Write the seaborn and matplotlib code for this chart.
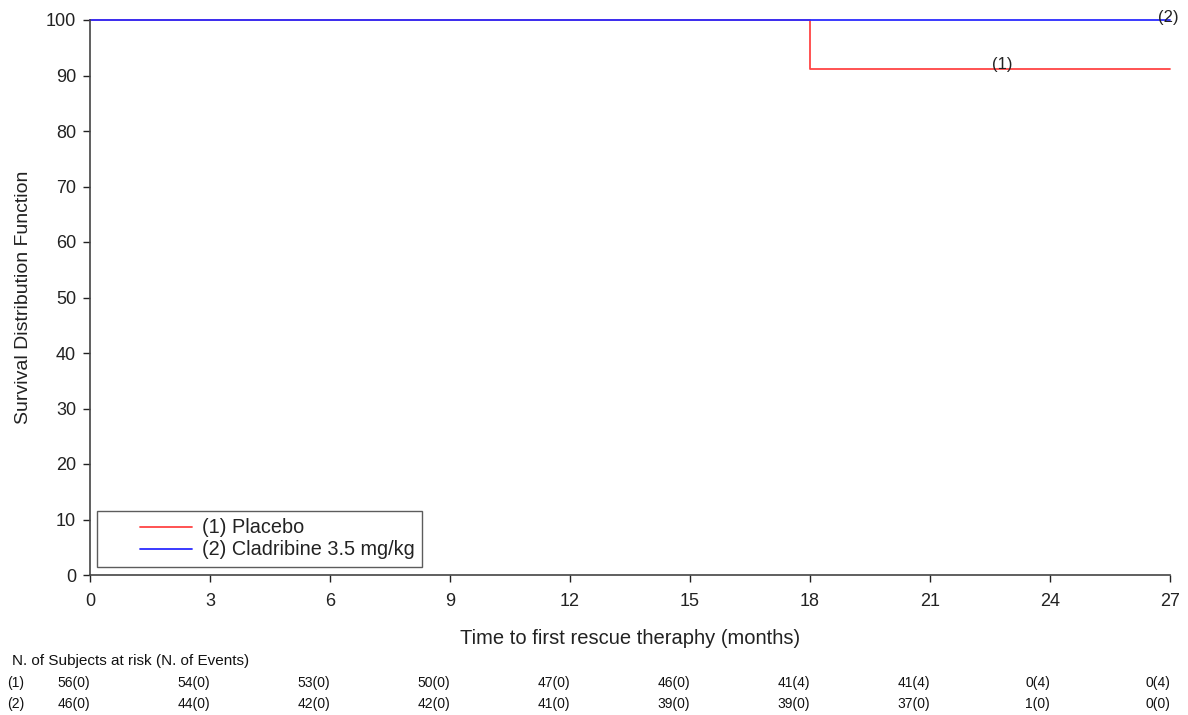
import matplotlib
matplotlib.use("Agg")
import matplotlib.pyplot as plt
import seaborn as sns
import pandas as pd
import numpy as np

# Data
placebo_time = [0, 18, 27]
placebo_surv = [100, 91.1, 91.1]
clad_time = [0, 27]
clad_surv = [100, 100]
series_names = ["(1) Placebo", "(2) Cladribine 3.5 mg/kg"]
x_ticks = [0, 3, 6, 9, 12, 15, 18, 21, 24, 27]
y_ticks = [0, 10, 20, 30, 40, 50, 60, 70, 80, 90, 100]
risk_placebo = ["56(0)", "54(0)", "53(0)", "50(0)", "47(0)", "46(0)", "41(4)", "41(4)", "0(4)", "0(4)"]
risk_clad = ["46(0)", "44(0)", "42(0)", "42(0)", "41(0)", "39(0)", "39(0)", "37(0)", "1(0)", "0(0)"]

sns.set_theme(style="ticks")
plt.rcParams['font.family'] = ['Liberation Sans', 'DejaVu Sans']

fig = plt.figure(figsize=(11.88, 7.15), dpi=100)
ax = fig.add_axes([90/1188, 1-575/715, 1080/1188, 555/715])

df = pd.concat([
    pd.DataFrame({"time": placebo_time, "surv": placebo_surv, "grp": series_names[0]}),
    pd.DataFrame({"time": clad_time, "surv": clad_surv, "grp": series_names[1]}),
])
sns.lineplot(data=df, x="time", y="surv", hue="grp",
             palette={series_names[0]: "#ff4444", series_names[1]: "#2b2bff"},
             drawstyle="steps-post", linewidth=1.3, ax=ax, estimator=None, sort=False)
for ln in ax.lines:
    ln.set_clip_on(False)

ax.set_xlim(0, 27)
ax.set_ylim(0, 100)
ax.set_xticks(x_ticks)
ax.set_yticks(y_ticks)
ax.tick_params(axis="both", labelsize=13, colors="#222222", length=5, width=1, direction="out")
ax.tick_params(axis="x", pad=8)
ax.tick_params(axis="y", pad=5)
for s in ["top", "right"]:
    ax.spines[s].set_visible(False)
for s in ["left", "bottom"]:
    ax.spines[s].set_color("#444444")
    ax.spines[s].set_linewidth(1.2)
ax.set_xlabel("Time to first rescue theraphy (months)", fontsize=14.5, color="#222222", labelpad=14)
ax.set_ylabel("Survival Distribution Function", fontsize=14, color="#222222", labelpad=10)

ax.text(22.8, 91.9, "(1)", fontsize=12, ha="center", va="center", color="#222222")
ax.text(26.95, 100.5, "(2)", fontsize=12, ha="center", va="center", color="#222222")

fs = 14.3
leg = ax.legend(loc="lower left", bbox_to_anchor=(0.0065, 0.0144), fontsize=fs,
                frameon=True, fancybox=False, handlelength=4.4, borderpad=0.38,
                labelspacing=0.15, handletextpad=0.5, borderaxespad=0)
leg.get_frame().set_edgecolor("#333333")
leg.get_frame().set_linewidth(1.0)
leg.set_title(None)
for t in leg.get_texts():
    t.set_color("#222222")
for ln in leg.get_lines():
    xd = np.asarray(ln.get_xdata(), dtype=float)
    yd = np.asarray(ln.get_ydata(), dtype=float)
    x0, x1 = xd.min(), xd.max()
    ln.set_data([x0 + 0.4 * (x1 - x0), x1], [yd[0], yd[0]])
    ln.set_drawstyle("default")
    ln.set_linewidth(1.3)

# Risk table
trans = ax.get_xaxis_transform()
fig.text(12/1188, 1-661/715, "N. of Subjects at risk (N. of Events)", fontsize=11,
         va="center", ha="left", color="#111111")
fig.text(7/1188, 1-683/715, "(1)", fontsize=10, va="center", ha="left", color="#111111")
fig.text(7/1188, 1-704/715, "(2)", fontsize=10, va="center", ha="left", color="#111111")
y1 = (1-683/715 - (1-575/715)) / (555/715)
y2 = (1-704/715 - (1-575/715)) / (555/715)
for xt, a, b in zip(x_ticks, risk_placebo, risk_clad):
    ax.text(xt, y1, a, transform=trans, fontsize=10, ha="right", va="center", color="#111111", clip_on=False)
    ax.text(xt, y2, b, transform=trans, fontsize=10, ha="right", va="center", color="#111111", clip_on=False)

fig.savefig("out.png", dpi=100)
